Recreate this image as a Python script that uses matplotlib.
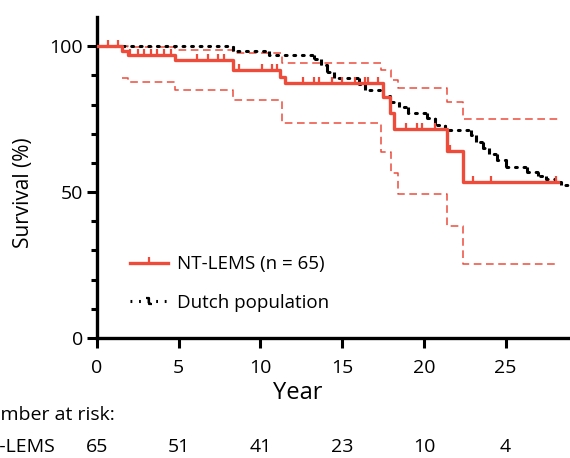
import numpy as np
import matplotlib.pyplot as plt
from matplotlib.path import Path
from matplotlib.lines import Line2D
import matplotlib.transforms as mtransforms

plt.rcParams['font.family'] = ['Open Sans', 'DejaVu Sans']

RED = '#EE4B3B'

# NT-LEMS Kaplan-Meier estimate (step times, survival %)
km_t = [0, 1.5, 1.9, 4.8, 8.3, 11.2, 11.5, 17.5, 17.9, 18.2, 21.4, 22.4, 28.2]
km_s = [100, 98.5, 96.9, 95.3, 91.9, 89.5, 87.3, 82.5, 77.0, 71.6, 64.0, 53.4, 53.4]

# censored observations
cens_t = [0.7, 1.3, 2.0, 2.5, 2.9, 3.3, 3.7, 4.1, 4.5, 6.1, 6.8, 7.4, 7.8,
          8.7, 10.1, 10.7, 11.0, 12.6, 13.3, 13.6, 14.4, 15.0, 15.8, 16.4,
          16.6, 17.2, 18.9, 19.6, 19.9, 20.7, 21.6, 23.0, 24.1, 28.1]

# 95% confidence band
ci_t = [0, 1.5, 1.9, 4.8, 8.3, 11.3, 17.4, 18.0, 18.4, 21.4, 22.4, 28.2]
ci_up = [100, 100, 99.6, 98.6, 97.5, 94.2, 91.8, 88.5, 85.6, 80.8, 75.0, 75.0]
ci_lo = [None, 89.0, 87.7, 84.9, 81.5, 73.6, 63.7, 56.5, 49.3, 38.4, 25.3, 25.3]

# Dutch general population, matched
nl_t = [0, 8.3, 10.5, 13.3, 13.7, 14.1, 14.5, 16.0, 16.4, 17.5, 17.9, 18.5,
        19.0, 20.2, 20.7, 21.3, 22.9, 23.2, 23.6, 24.0, 24.5, 25.0, 26.3,
        27.0, 27.5, 28.0, 28.4, 29.0]
nl_s = [100, 98.4, 97.0, 95.5, 93.5, 91.0, 89.0, 87.0, 85.0, 83.0, 81.0, 79.0,
        77.0, 75.5, 73.0, 71.2, 69.5, 67.0, 65.0, 63.0, 61.0, 58.5, 57.0,
        55.5, 54.5, 53.4, 52.4, 52.4]

risk_t = [0, 5, 10, 15, 20, 25]
risk_n = [65, 51, 41, 23, 10, 4]

tick_up = Path([(0, 0), (0, 1)])
step_mk = Path([(-1, 1), (0, 1), (0, -1), (1, -1)])

fig = plt.figure(figsize=(5.7, 4.58), dpi=100)
ax = fig.add_axes([97 / 570, 120 / 458, 474 / 570, 321 / 458])

# Dutch population: dotted horizontals, solid drops
ax.step(nl_t, nl_s, where='post', color='black', lw=2.2,
        linestyle=(0, (0.6, 2.2)), dash_capstyle='round', zorder=3)
ax.vlines(nl_t[1:], nl_s[1:], nl_s[:-1], color='black', lw=2.2, zorder=3)

# confidence band
ax.step(ci_t, ci_up, where='post', color=RED, lw=1.1, linestyle=(0, (5, 3)), zorder=2)
ax.step(ci_t[1:], ci_lo[1:], where='post', color=RED, lw=1.1, linestyle=(0, (5, 3)), zorder=2)

# KM curve
ax.step(km_t, km_s, where='post', color=RED, lw=2.4, zorder=4)
cens_s = [km_s[np.searchsorted(km_t, c, side='right') - 1] for c in cens_t]
ax.plot(cens_t, cens_s, linestyle='none', marker=tick_up, markersize=8,
        markeredgewidth=1.6, color=RED, zorder=4)

ax.set_xlim(0, 29)
ax.set_ylim(0, 110)
ax.set_xticks([0, 5, 10, 15, 20, 25])
ax.set_yticks([0, 50, 100])
ax.set_yticks(np.arange(10, 100, 10), minor=True)
ax.tick_params(axis='both', which='major', width=2.2, length=7, labelsize=14)
ax.tick_params(axis='x', which='major', pad=8)
ax.tick_params(axis='y', which='major', pad=3)
ax.tick_params(axis='y', which='minor', width=2.2, length=4.5)
for s in ['top', 'right']:
    ax.spines[s].set_visible(False)
for s in ['left', 'bottom']:
    ax.spines[s].set_linewidth(2.4)

ax.set_xlabel('Year', fontsize=17)
ax.xaxis.set_label_coords((298 - 97) / 474, -(381 - 338) / 321)
ax.set_ylabel('Survival (%)', fontsize=15)
ax.yaxis.set_label_coords(-(97 - 34) / 474, (338 - 193) / 321)

handles = [
    Line2D([0, 0.5, 1], [0, 0, 0], color=RED, lw=2.4, marker=tick_up, markersize=8,
           markeredgewidth=1.6, markevery=[1]),
    Line2D([0, 0.5, 1], [0, 0, 0], color='black', lw=2.2, linestyle=(0, (0.6, 2.2)),
           marker=step_mk, markersize=5, markeredgewidth=1.6, markevery=[1]),
]
ax.legend(handles, ['NT-LEMS (n = 65)', 'Dutch population'], loc='center left',
          bbox_to_anchor=(0.07, (338 - 283.5) / 321), frameon=False, fontsize=13.5,
          handlelength=2.0, handletextpad=0.5, labelspacing=1.1, borderpad=0,
          borderaxespad=0)

# number at risk table
trans = mtransforms.blended_transform_factory(ax.transData, fig.transFigure)
fig.text(-26 / 570, 1 - 415 / 458, 'Number at risk:', fontsize=14,
         ha='left', va='center')
fig.text(-26 / 570, 1 - 447 / 458, 'NT-LEMS', fontsize=14, ha='left', va='center')
for t, n in zip(risk_t, risk_n):
    ax.text(t, 1 - 447 / 458, str(n), transform=trans, fontsize=14,
            ha='center', va='center', clip_on=False)

fig.savefig('out.png', dpi=100)
